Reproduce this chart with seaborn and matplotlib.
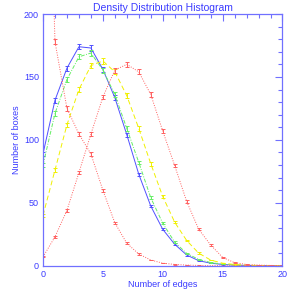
import numpy as np
import pandas as pd
import matplotlib
matplotlib.use("Agg")
import matplotlib.pyplot as plt
from matplotlib.ticker import MultipleLocator
import seaborn as sns

edges = list(range(0, 21))

blue_vals = [89, 131.5, 157, 174, 173, 156, 133.5, 104, 72.6, 47.4, 28.9, 17, 8.5, 4, 2, 1, 0.5, 0.2, 0.1, 0, 0]
green_vals = [80, 121, 148, 166, 169, 155.5, 136, 109, 82, 54, 33.7, 18.6, 9.8, 5, 2.5, 1.2, 0.5, 0.2, 0.1, 0, 0]
yellow_vals = [40, 76, 112, 140, 159, 162.7, 154, 135, 109, 81, 55, 34.5, 20, 10, 4.5, 2, 1, 0.4, 0.2, 0.1, 0]
red1_vals = [500, 178, 125, 104.6, 88.8, 60, 34, 17.8, 9.3, 4.5, 2, 1, 0.5, 0.2, 0.1, 0, 0, 0, 0, 0, 0]
red2_vals = [7, 23, 44, 74, 104.6, 134, 155.5, 160, 154, 136, 107, 79.5, 51, 29, 16.5, 6.6, 2.4, 1, 0.5, 0.2, 0.1]

series = [
    (blue_vals, "#5050ff", "-"),
    (green_vals, "#66ee66", (0, (4, 1.5, 1, 1.5))),
    (yellow_vals, "#f0f000", (0, (5, 3))),
    (red1_vals, "#ff6060", (0, (1, 1.5))),
    (red2_vals, "#ff6060", (0, (1, 1.5))),
]

sns.set_style("white")
plt.rcParams["font.family"] = ["Liberation Sans", "DejaVu Sans"]
axis_col = "#7070ff"
text_col = "#3a3aff"

fig = plt.figure(figsize=(2.95, 2.95), dpi=100)
ax = fig.add_axes([0.1458, 0.0993, 0.8118, 0.8532])

for vals, col, ls in series:
    df = pd.DataFrame({"edges": edges, "boxes": vals})
    sns.lineplot(data=df, x="edges", y="boxes", ax=ax, color=col,
                 linestyle=ls, linewidth=0.7)
    v = np.array(vals, dtype=float)
    err = 0.16 * np.sqrt(v)
    ax.errorbar(edges, v, yerr=err, fmt="none", ecolor=col,
                elinewidth=0.7, capsize=1.2, capthick=0.7)

ax.set_xlim(0, 20)
ax.set_ylim(0, 200)
ax.xaxis.set_major_locator(MultipleLocator(5))
ax.xaxis.set_minor_locator(MultipleLocator(1))
ax.yaxis.set_major_locator(MultipleLocator(50))
ax.yaxis.set_minor_locator(MultipleLocator(10))
ax.tick_params(which="both", direction="in", top=True, right=True,
               color=axis_col, labelcolor=text_col, labelsize=6.5, width=0.8)
ax.tick_params(which="major", length=5, pad=3)
ax.tick_params(which="minor", length=3)
for s in ax.spines.values():
    s.set_color(axis_col)
    s.set_linewidth(0.9)

ax.set_xlabel("Number of edges", color=text_col, fontsize=6.5, labelpad=1)
ax.set_ylabel("Number of boxes", color=text_col, fontsize=6.5, labelpad=2)
ax.set_title("Density Distribution Histogram", color=text_col, fontsize=7.5, pad=2)

fig.savefig("out.png", dpi=100)
